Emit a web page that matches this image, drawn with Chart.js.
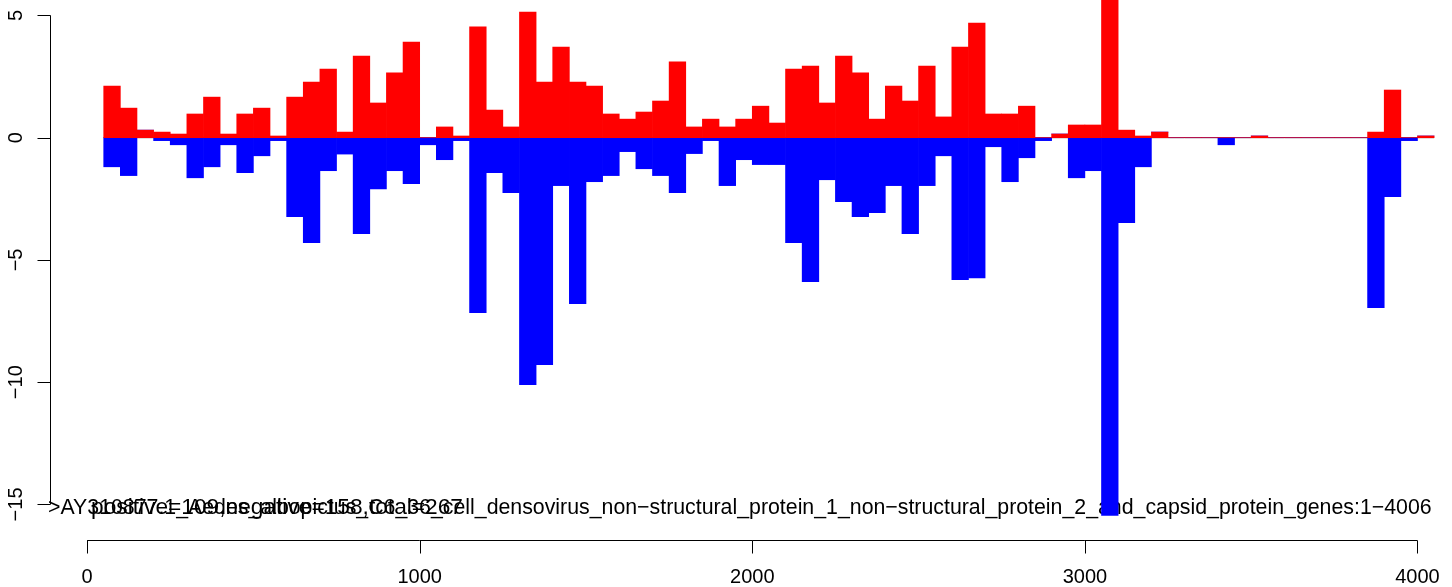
<!DOCTYPE html>
<html>
<head>
<meta charset="utf-8">
<script src="https://cdn.jsdelivr.net/npm/chart.js@4"></script>
<style>
  html, body { margin: 0; padding: 0; background: #fff; }
  #wrap { position: relative; width: 1452px; height: 587px; }
</style>
</head>
<body>
<div id="wrap"><canvas id="chart" width="1452" height="587"></canvas></div>
<script>
// window start positions along the sequence (bp), each window 50 bp wide
const binStarts = [
  50, 100, 150, 200, 250, 300, 350, 400, 450, 500,
  550, 600, 650, 700, 750, 800, 850, 900, 950, 1000,
  1050, 1100, 1150, 1200, 1250, 1300, 1350, 1400, 1450, 1500,
  1550, 1600, 1650, 1700, 1750, 1800, 1850, 1900, 1950, 2000,
  2050, 2100, 2150, 2200, 2250, 2300, 2350, 2400, 2450, 2500,
  2550, 2600, 2650, 2700, 2750, 2800, 2850, 2900, 2950, 3000,
  3050, 3100, 3150, 3200, 3250, 3300, 3350, 3400, 3450, 3500,
  3550, 3600, 3650, 3700, 3750, 3800, 3850, 3900, 3950, 4000
];
const binWidth = 50;

// positive strand scores (red)
const positiveScores = [
  2.11, 1.21, 0.31, 0.23, 0.15, 0.97, 1.66, 0.15, 0.97, 1.21,
  0.07, 1.66, 2.28, 2.81, 0.23, 3.34, 1.42, 2.65, 3.91, 0,
  0.44, 0.07, 4.53, 1.13, 0.44, 5.14, 2.28, 3.71, 2.28, 2.11,
  0.97, 0.76, 1.05, 1.50, 3.10, 0.44, 0.76, 0.44, 0.76, 1.29,
  0.60, 2.81, 2.93, 1.42, 3.34, 2.65, 0.76, 2.11, 1.50, 2.93,
  0.85, 3.71, 4.69, 0.97, 0.97, 1.29, 0, 0.15, 0.52, 0.52,
  6.0, 0.31, 0.07, 0.23, 0, 0, 0, 0, 0, 0.07,
  0, 0, 0, 0, 0, 0, 0.23, 1.95, 0, 0.07
];

// negative strand scores (blue)
const negativeScores = [
  -1.19, -1.55, 0, -0.12, -0.29, -1.64, -1.19, -0.29, -1.43, -0.74,
  -0.12, -3.23, -4.29, -1.35, -0.67, -3.93, -2.09, -1.35, -1.88, -0.29,
  -0.90, -0.12, -7.16, -1.43, -2.25, -10.1, -9.28, -1.96, -6.79, -1.80,
  -1.55, -0.57, -1.27, -1.55, -2.25, -0.65, -0.12, -1.96, -0.90, -1.10,
  -1.10, -4.29, -5.89, -1.72, -2.62, -3.23, -3.07, -1.96, -3.93, -1.96,
  -0.74, -5.81, -5.73, -0.37, -1.80, -0.82, -0.12, 0, -1.64, -1.35,
  -15.45, -3.48, -1.19, 0, 0, 0, 0, -0.29, 0, 0,
  0, 0, 0, 0, 0, 0, -6.95, -2.41, -0.12, 0
];

const xTicks = [0, 1000, 2000, 3000, 4000];
const yTicks = [5, 0, -5, -10, -15];
const yTickLabels = ['5', '0', '\u22125', '\u221210', '\u221215'];

const seqTitle = '>AY310877.1_Aedes_albopictus_C6_36_cell_densovirus_non\u2212structural_protein_1_non\u2212structural_protein_2_and_capsid_protein_genes:1\u22124006';
const countsLabel = 'positive=109,negative=158,total=267';

const FONT = '"Liberation Sans", Arial, Helvetica, sans-serif';

const toPoints = (vals) => vals.map((v, i) => ({ x: binStarts[i] + binWidth / 2, y: v }));

// draw a string so that it spans exactly from left to right
function fitText(ctx, text, left, right, y) {
  ctx.font = '20px ' + FONT;
  const w = ctx.measureText(text).width;
  const size = 20 * (right - left) / w;
  ctx.font = size.toFixed(2) + 'px ' + FONT;
  ctx.textAlign = 'left';
  ctx.fillText(text, left, y);
}

// R-style base graphics axes and annotations
const rStyle = {
  id: 'rStyle',
  beforeDatasetsDraw(chart) {
    const ctx = chart.ctx;
    ctx.save();
    ctx.fillStyle = '#000';
    ctx.textBaseline = 'middle';
    fitText(ctx, seqTitle, 48, 1432, 508);
    fitText(ctx, countsLabel, 91, 463, 508);
    ctx.restore();
  },
  afterDraw(chart) {
    const ctx = chart.ctx;
    const xs = chart.scales.x;
    const ys = chart.scales.y;
    const area = chart.chartArea;
    ctx.save();
    ctx.strokeStyle = '#000';
    ctx.fillStyle = '#000';
    ctx.lineWidth = 1;

    // x axis
    const axisY = area.bottom + 0.5;
    ctx.beginPath();
    ctx.moveTo(xs.getPixelForValue(xTicks[0]), axisY);
    ctx.lineTo(xs.getPixelForValue(xTicks[xTicks.length - 1]), axisY);
    xTicks.forEach(t => {
      const px = Math.round(xs.getPixelForValue(t)) + 0.5;
      ctx.moveTo(px, axisY);
      ctx.lineTo(px, axisY + 13);
    });
    ctx.stroke();
    ctx.font = '20px ' + FONT;
    ctx.textAlign = 'center';
    ctx.textBaseline = 'middle';
    xTicks.forEach(t => {
      ctx.fillText(String(t), xs.getPixelForValue(t), 577);
    });

    // y axis
    const axisX = area.left - 0.5;
    ctx.beginPath();
    ctx.moveTo(axisX, ys.getPixelForValue(yTicks[0]));
    ctx.lineTo(axisX, ys.getPixelForValue(yTicks[yTicks.length - 1]));
    yTicks.forEach(t => {
      const py = Math.round(ys.getPixelForValue(t)) + 0.5;
      ctx.moveTo(axisX, py);
      ctx.lineTo(axisX - 13, py);
    });
    ctx.stroke();
    yTicks.forEach((t, i) => {
      ctx.save();
      ctx.translate(16, ys.getPixelForValue(t));
      ctx.rotate(-Math.PI / 2);
      ctx.fillText(yTickLabels[i], 0, 0);
      ctx.restore();
    });
    ctx.restore();
  }
};

const ctx = document.getElementById('chart').getContext('2d');
new Chart(ctx, {
  type: 'bar',
  data: {
    datasets: [
      {
        label: 'positive',
        data: toPoints(positiveScores),
        backgroundColor: '#ff0000',
        borderWidth: 0,
        barPercentage: 1,
        categoryPercentage: 1,
        order: 1
      },
      {
        label: 'negative',
        data: toPoints(negativeScores),
        backgroundColor: '#0000ff',
        borderWidth: 0,
        barPercentage: 1,
        categoryPercentage: 1,
        order: 2
      },
      {
        type: 'line',
        label: 'baseline',
        data: [
          { x: binStarts[0], y: 0 },
          { x: binStarts[binStarts.length - 1] + binWidth, y: 0 }
        ],
        borderColor: '#666666',
        borderWidth: 1,
        pointRadius: 0,
        order: 10
      }
    ]
  },
  options: {
    responsive: false,
    devicePixelRatio: 1,
    animation: false,
    layout: { padding: { left: 51, right: 0, top: 0, bottom: 47 } },
    plugins: {
      legend: { display: false },
      tooltip: { enabled: false },
      title: { display: false }
    },
    scales: {
      x: {
        type: 'linear',
        display: false,
        offset: false,
        stacked: true,
        min: -108.5,
        max: 4103.8
      },
      y: {
        display: false,
        stacked: true,
        min: -16.454,
        max: 5.632
      }
    }
  },
  plugins: [rStyle]
});
</script>
</body>
</html>
